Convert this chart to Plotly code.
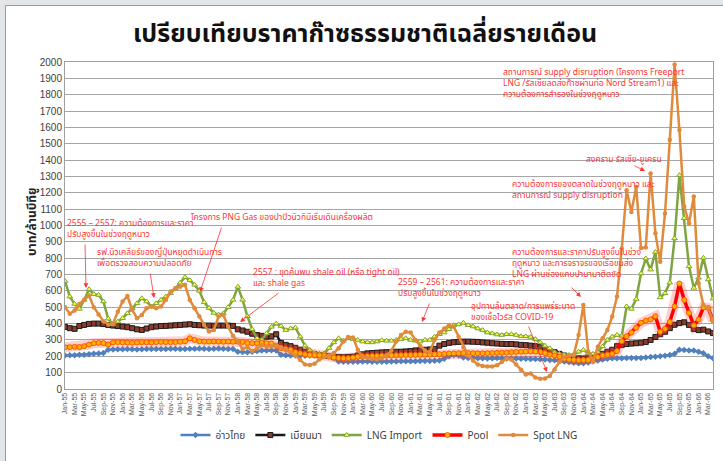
import plotly.graph_objects as go

MONTHS = ["Jan", "Feb", "Mar", "Apr", "May", "Jun", "Jul", "Aug", "Sep", "Oct", "Nov", "Dec"]
YEARS = list(range(55, 67))
N_MONTHS = 136
month_labels = [f"{MONTHS[k % 12]}-{YEARS[k // 12]}" for k in range(N_MONTHS)]

gulf = [205, 206, 207, 209, 210, 212, 215, 217, 220,
        240, 242, 243, 243, 244, 243, 242, 243, 244, 245, 245, 244, 245, 246, 246, 245, 245, 246, 246, 247, 246, 245, 246, 247, 246, 245, 244,
        228, 226, 225, 228, 232, 235, 236, 237, 236,
        210, 207, 205, 205, 204, 204, 205, 206, 205, 205, 204,
        190,
        168, 167, 166, 166, 167, 168, 168, 167, 166, 166, 167, 168, 168, 169, 170, 170, 170, 171, 172, 172, 173, 175, 185,
        200, 208, 205,
        192, 190, 189, 188, 188, 187, 188, 189, 188, 187, 186, 186, 185, 185, 184, 183, 182, 180, 178, 176, 174,
        168, 165, 160, 157, 158, 162,
        170, 175, 180, 185, 188,
        188, 188, 189, 190, 190, 190, 192, 195, 198, 200,
        203, 208, 215, 240, 238, 236, 235, 228, 218, 200, 188]

myanmar = [380, 372, 368, 385, 392, 398, 400, 400, 397, 392, 388, 385,
           382, 378, 372, 365, 361, 370, 378, 382, 385, 386, 388, 390, 392, 394, 396, 392, 390, 388, 388, 387, 388, 388, 388, 386,
           365, 358, 350, 338, 330, 325, 320, 322, 335,
           282, 270, 262, 252, 240, 228, 218, 212, 208, 205, 202, 198, 195, 194, 196, 198, 205, 212, 218, 220, 222, 224, 225,
           226, 228, 228, 230, 232, 236, 238, 240, 242, 245,
           265, 275, 282, 286, 288, 290, 290, 289, 288, 285, 283, 280, 278, 276, 275, 275, 273, 270, 268, 265, 262, 258, 245, 232, 225, 215, 205, 195, 190, 188, 187, 188, 192, 200, 215, 228, 240,
           262, 270, 275, 278, 280, 283, 288, 300, 318, 335, 350, 372, 393, 403, 408, 392, 367, 360, 363, 352, 342]

lng_import = [660, 565, 520, 490, 545, 610, 580, 575, 535, 430, 395,
              412, 433, 463, 494, 524, 555, 535, 504, 524, 545,
              565, 586, 615, 650, 684, 665, 637, 600, 530, 495,
              465, 455, 462, 500, 545, 625, 545, 445, 365, 310,
              300, 340, 380,
              400, 385, 360, 370, 375, 320, 265, 238, 220, 215, 218, 250, 285, 310, 295, 310, 305, 300, 290, 285, 285, 290, 298, 295,
              295, 300, 305, 310, 300, 295, 290, 300, 300, 320,
              335, 345, 365, 390, 395, 405, 390, 382, 370, 360,
              345, 340, 333, 330, 335, 335, 330, 322, 322, 318,
              305, 285, 265, 249, 225, 215, 210, 208, 212, 228,
              239, 218, 215, 225, 260, 300, 320, 330, 325,
              505, 490, 550, 706, 798, 730, 838, 560, 585, 650, 921, 1308, 1044, 750, 618, 680, 802, 670, 553]

pool = [255, 256, 258, 256, 262, 272, 280, 282, 281, 272, 285, 287,
        285, 284, 283, 285, 287, 286, 285, 287, 288, 287, 286, 287, 289, 292,
        310, 300,
        292, 290, 290, 291, 290, 289, 290, 289, 290, 288,
        282, 280, 280, 281, 280, 279,
        265, 250, 245, 240, 225, 218, 212, 208, 207, 206, 205, 198, 192, 189, 188, 188, 192, 198, 200, 201, 202, 202, 203, 204,
        205, 206, 207, 208, 208, 209, 210, 210, 211, 212, 213, 215,
        217, 218, 219, 220, 220, 219, 218, 218, 219, 220, 221, 222, 223, 225,
        227, 228, 229, 230, 229, 226, 220,
        210, 205, 198,
        185, 180, 178, 176, 177, 178, 182,
        195, 205, 210, 215,
        232, 292, 322, 345, 375, 405, 418, 425, 445, 350, 368, 410, 505, 645, 545, 465, 390, 425, 500, 495, 420]

spot_lng = [500, 460, 480, 520, 545, 572, 500, 455, 415, 395, 400,
            473, 535, 569, 484, 433, 453, 494, 504, 494, 504, 545, 596, 616, 626, 637, 545, 494, 443, 392, 351, 361, 443, 453,
            380, 325, 290, 245, 255, 232, 248, 268, 260, 262,
            270, 255, 240, 225, 205, 178, 150, 147, 155, 180, 195, 205, 220,
            250, 290, 318, 315, 240, 195, 190, 185, 182, 188, 205,
            235, 290, 330, 350, 345, 300, 265, 235, 225, 300,
            345, 370, 390, 380, 320, 255, 205, 175, 150, 140,
            137, 138, 145, 165, 185, 180, 150, 118, 88, 95,
            70, 62, 64, 80, 120, 165, 195,
            205, 208, 330, 514, 228, 167, 259, 310, 361, 443, 565, 860, 1215, 1082, 1235, 862, 865, 1318, 952, 778,
            1073, 1524, 1984, 1584, 1116, 1014, 1178, 647, 514, 494, 418]

x = list(range(N_MONTHS))

# pixel helpers (plot area 65..713 x 62..389 in a 723x461 page)
L, R, T, B = 65, 713, 62, 389
def px_x(p):
    return (p - L) / (R - L) * (N_MONTHS - 1)
def px_y(p):
    return (B - p) / (B - T) * 2000
def pap_x(p):
    return (p - L) / (R - L)
def pap_y(p):
    return (B - p) / (B - T)

THAI = "Noto Sans Thai, Tahoma, Leelawadee UI, sans-serif"

fig = go.Figure()
fig.add_trace(go.Scatter(x=x, y=gulf, name="อ่าวไทย", mode="lines+markers",
                         line=dict(color="#4f81bd", width=2.5),
                         marker=dict(symbol="diamond", size=5, color="#4f81bd")))
fig.add_trace(go.Scatter(x=x, y=myanmar, name="เมียนมา", mode="lines+markers",
                         line=dict(color="#1a1a1a", width=2.5),
                         marker=dict(symbol="square", size=5, color="#8c3b2c",
                                     line=dict(color="#1a1a1a", width=1))))
fig.add_trace(go.Scatter(x=x, y=lng_import, name="LNG Import", mode="lines+markers",
                         line=dict(color="#7ea542", width=2.5),
                         marker=dict(symbol="triangle-up", size=5, color="#ffff33",
                                     line=dict(color="#7ea542", width=1))))
fig.add_trace(go.Scatter(x=x, y=pool, showlegend=False, mode="lines", hoverinfo="skip",
                         line=dict(color="rgba(255,60,60,0.25)", width=10)))
fig.add_trace(go.Scatter(x=x, y=pool, name="Pool", mode="lines+markers",
                         line=dict(color="#ff0000", width=3.5),
                         marker=dict(symbol="circle", size=5, color="#ffb000",
                                     line=dict(color="#ff5a00", width=1))))
fig.add_trace(go.Scatter(x=x, y=spot_lng, name="Spot LNG", mode="lines+markers",
                         line=dict(color="#e08a3c", width=2.5),
                         marker=dict(symbol="circle", size=4.5, color="#e08a3c")))

RED = "#ff3333"
notes = [
    ((66, 216), "2555 – 2557: ความต้องการและราคา<br>ปรับสูงขึ้นในช่วงฤดูหนาว"),
    ((96, 245), "รฟ.นิวเคลียร์ของญี่ปุ่นหยุดดำเนินการ<br>เพื่อตรวจสอบความปลอดภัย"),
    ((190, 210), "โครงการ PNG Gas ของปาปัวนิวกินีเริ่มเดินเครื่องผลิต"),
    ((252, 265), "2557 : ขุดค้นพบ shale oil (หรือ tight oil)<br>และ shale gas"),
    ((397, 275), "2559 – 2561: ความต้องการและราคา<br>ปรับสูงขึ้นในช่วงฤดูหนาว"),
    ((470, 299), "อุปทานล้นตลาด/การแพร่ระบาด<br>ของเชื้อไวรัส COVID-19"),
    ((511, 245), "ความต้องการและราคาปรับสูงขึ้นในช่วง<br>ฤดูหนาว และการจราจรของเรือขนส่ง<br>LNG ผ่านช่องแคบปานามาติดขัด"),
    ((511, 177), "ความต้องการของตลาดในช่วงฤดูหนาว และ<br>สถานการณ์ supply disruption"),
    ((585, 152), "สงคราม รัสเซีย-ยูเครน"),
    ((502, 65), "สถานการณ์ supply disruption (โครงการ Freeport<br>LNG /รัสเซียลดส่งก๊าซผ่านท่อ Nord Stream1) และ<br>ความต้องการสำรองในช่วงฤดูหนาว"),
]
arrows = [
    ((85, 243), (86, 288)),
    ((150, 272), (154, 298)),
    ((222, 226), (200, 292)),
    ((280, 292), (240, 322)),
    ((430, 302), (422, 322)),
    ((528, 325), (547, 372)),
    ((570, 286), (581, 297)),
    ((633, 165), (645, 171)),
]

annotations = []
for (px, py), txt in notes:
    annotations.append(dict(x=px_x(px), y=px_y(py), xref="x", yref="y", text=txt,
                            showarrow=False, xanchor="left", yanchor="top", align="left",
                            borderpad=0,
                            font=dict(family=THAI, size=8.5, color=RED)))
for (tx, ty), (hx, hy) in arrows:
    annotations.append(dict(x=px_x(hx), y=px_y(hy), ax=px_x(tx), ay=px_y(ty),
                            xref="x", yref="y", axref="x", ayref="y", text="",
                            showarrow=True, arrowhead=2, arrowsize=1.2, arrowwidth=0.8,
                            arrowcolor=RED))
annotations.append(dict(x=pap_x(365), y=pap_y(34), xref="paper", yref="paper",
                        text="<b>เปรียบเทียบราคาก๊าซธรรมชาติเฉลี่ยรายเดือน</b>", showarrow=False,
                        xanchor="center", yanchor="middle",
                        font=dict(family=THAI, size=25, color="#111111")))
annotations.append(dict(x=pap_x(32), y=pap_y(222), xref="paper", yref="paper",
                        text="<b>บาท/ล้านบีทียู</b>", showarrow=False, textangle=-90,
                        xanchor="center", yanchor="middle",
                        font=dict(family=THAI, size=12, color="#222222")))

shapes = [
    dict(type="rect", xref="paper", yref="paper", x0=pap_x(0), x1=pap_x(723), y0=pap_y(461), y1=pap_y(0),
         fillcolor="#e3e6e9", line=dict(width=0), layer="below"),
    dict(type="rect", xref="paper", yref="paper", x0=pap_x(5.5), x1=pap_x(740), y0=pap_y(480), y1=pap_y(5.5),
         fillcolor="#ffffff", line=dict(color="#9a9a9a", width=1), layer="below"),
]

fig.update_layout(
    width=723, height=461,
    margin=dict(l=L, r=723 - R, t=T, b=461 - B),
    paper_bgcolor="#ffffff", plot_bgcolor="#ffffff",
    font=dict(family=THAI, color="#404040"),
    showlegend=True,
    legend=dict(orientation="h", x=pap_x(379), xanchor="center", y=pap_y(435), yanchor="middle",
                font=dict(family=THAI, size=10, color="#404040"), itemwidth=30,
                bgcolor="rgba(0,0,0,0)"),
    annotations=annotations,
    shapes=shapes,
)
fig.update_xaxes(range=[0, N_MONTHS - 1], tickmode="array", tickvals=x[::2], ticktext=month_labels[::2],
                 tickangle=-90, tickfont=dict(size=7, color="#595959", family="Liberation Sans"),
                 showgrid=False, zeroline=False, showline=True, linecolor="#a0a0a0", mirror=True, ticks="")
fig.update_yaxes(range=[0, 2000], dtick=100, tickfont=dict(size=10, color="#404040", family="Liberation Sans"),
                 showgrid=True, gridcolor="#a6a6a6", gridwidth=1, zeroline=False,
                 showline=True, linecolor="#a0a0a0", mirror=True, ticks="")

fig.write_html("out.html", config={"displayModeBar": False},
               post_script="document.body.style.margin='0';document.body.style.overflow='hidden';")
